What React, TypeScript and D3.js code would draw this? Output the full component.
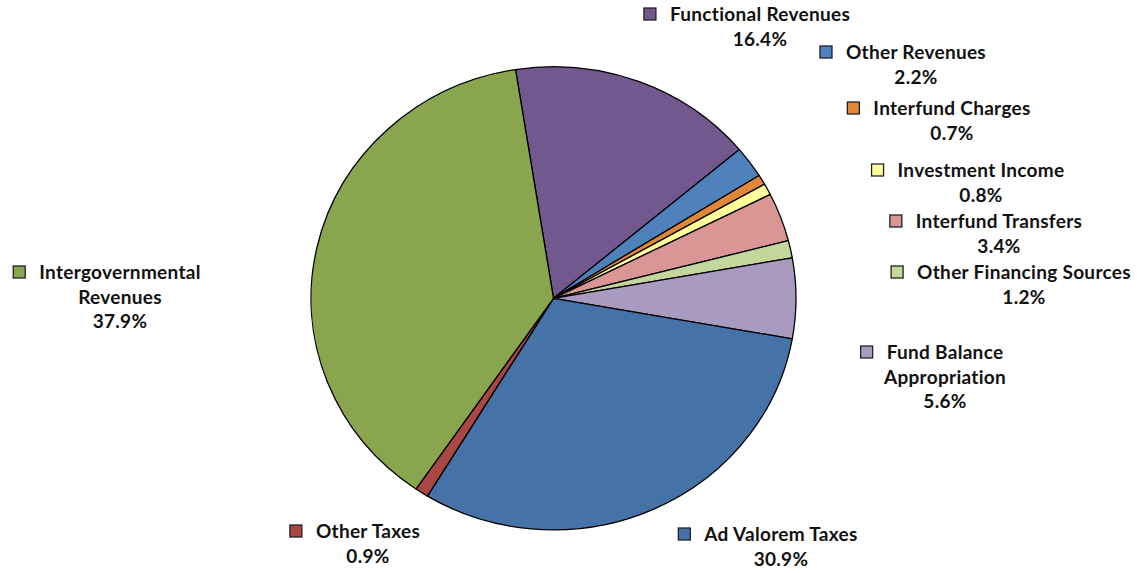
import React, { useEffect, useRef } from "react";
import * as d3 from "d3";

const categories = [
  "Functional Revenues",
  "Other Revenues",
  "Interfund Charges",
  "Investment Income",
  "Interfund Transfers",
  "Other Financing Sources",
  "Fund Balance Appropriation",
  "Ad Valorem Taxes",
  "Other Taxes",
  "Intergovernmental Revenues",
];
const values = [16.4, 2.2, 0.7, 0.8, 3.4, 1.2, 5.6, 30.9, 0.9, 37.9];
const colors = [
  "#71588F",
  "#4F81BD",
  "#E0883A",
  "#FFFF99",
  "#D99694",
  "#C3D69B",
  "#A99BBF",
  "#4572A7",
  "#AA4643",
  "#89A54E",
];
const labelLines = [
  ["Functional Revenues"],
  ["Other Revenues"],
  ["Interfund Charges"],
  ["Investment Income"],
  ["Interfund Transfers"],
  ["Other Financing Sources"],
  ["Fund Balance", "Appropriation"],
  ["Ad Valorem Taxes"],
  ["Other Taxes"],
  ["Intergovernmental", "Revenues"],
];

// layout (label centre x, first baseline y)
const labelLayout = [
  { cx: 760, y: 21 },
  { cx: 916, y: 59 },
  { cx: 952, y: 115 },
  { cx: 981, y: 177 },
  { cx: 999, y: 228 },
  { cx: 1024, y: 279 },
  { cx: 945, y: 359 },
  { cx: 781, y: 541 },
  { cx: 368, y: 538 },
  { cx: 120, y: 279 },
];

const W = 1140;
const H = 573;
const CX = 553.5;
const CY = 298.3;
const R = 242.5;
const SQUASH = 0.955;
const START = (-9 * Math.PI) / 180;

export default function App() {
  const ref = useRef<SVGSVGElement>(null);

  useEffect(() => {
    const svg = d3.select(ref.current);
    svg.selectAll("*").remove();

    const pie = d3
      .pie<number>()
      .sort(null)
      .value((d) => d)
      .startAngle(START)
      .endAngle(START + 2 * Math.PI);
    const arc = d3.arc<d3.PieArcDatum<number>>().innerRadius(0).outerRadius(R);

    const g = svg
      .append("g")
      .attr("transform", `translate(${CX},${CY}) scale(1,${SQUASH})`);
    g.selectAll("path")
      .data(pie(values))
      .enter()
      .append("path")
      .attr("d", arc as any)
      .attr("fill", (_, i) => colors[i])
      .attr("stroke", "#000")
      .attr("stroke-width", 1.3)
      .attr("stroke-linejoin", "round")
      .attr("vector-effect", "non-scaling-stroke");

    const lg = svg
      .append("g")
      .attr("font-family", "Lato, 'Open Sans', sans-serif")
      .attr("font-weight", 700)
      .attr("font-size", 19)
      .attr("letter-spacing", 0.3)
      .attr("fill", "#111");

    categories.forEach((c, i) => {
      const lay = labelLayout[i];
      const lines = [...labelLines[i], `${values[i].toFixed(1)}%`];
      const grp = lg.append("g");
      let firstW = 0;
      lines.forEach((t, j) => {
        const tx = grp
          .append("text")
          .attr("x", lay.cx)
          .attr("y", lay.y + j * 24.5)
          .attr("text-anchor", "middle")
          .text(t);
        if (j === 0) {
          const node = tx.node() as SVGTextElement;
          firstW = node.getComputedTextLength();
        }
      });
      const left = lay.cx - firstW / 2;
      grp
        .append("rect")
        .attr("x", left - 26)
        .attr("y", lay.y - 13)
        .attr("width", 12)
        .attr("height", 12)
        .attr("fill", colors[i])
        .attr("stroke", "#222")
        .attr("stroke-width", 1.3);
    });
  }, []);

  return (
    <svg
      ref={ref}
      width={W}
      height={H}
      style={{ position: "absolute", left: 0, top: 0, background: "#fff" }}
    />
  );
}
